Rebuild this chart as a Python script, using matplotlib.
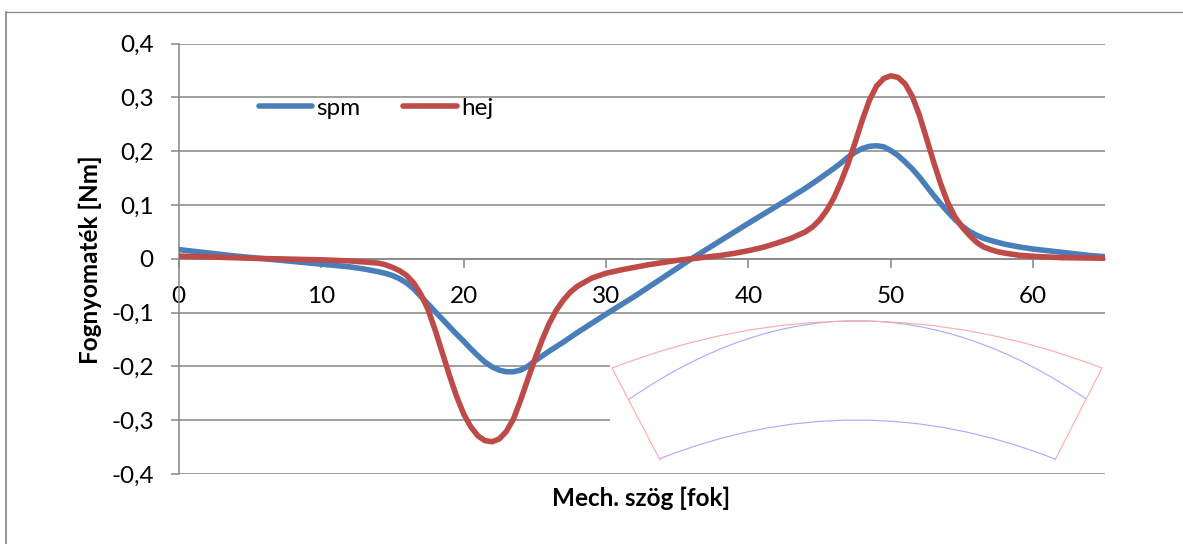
import matplotlib
matplotlib.use("Agg")
import matplotlib.pyplot as plt
from matplotlib.lines import Line2D
from matplotlib.path import Path
from matplotlib.patches import PathPatch

plt.rcParams['font.family'] = ['Lato', 'DejaVu Sans']

W, H = 1183, 544
GRAY = '#8a8a8a'

x_ticks = [0, 10, 20, 30, 40, 50, 60]
y_ticks = [-0.4, -0.3, -0.2, -0.1, 0, 0.1, 0.2, 0.3, 0.4]
y_labels = ['-0,4', '-0,3', '-0,2', '-0,1', '0', '0,1', '0,2', '0,3', '0,4']

spm_x = [0, 2, 4, 6, 8, 10, 12, 13, 14, 14.5, 15, 15.5, 16, 16.5, 17, 17.5, 18, 18.5, 19, 19.5, 20, 20.5, 21, 21.5,
         22, 22.5, 23, 23.5, 24, 24.5, 25, 25.5, 26, 27, 28, 29, 30, 32, 34, 36, 38, 40, 42, 44, 45, 46, 46.5, 47,
         47.5, 48, 48.5, 49, 49.5, 50, 50.5, 51, 51.5, 52, 52.5, 53, 53.5, 54, 54.5, 55, 55.5, 56, 56.5, 57, 58, 59,
         60, 61, 62, 63, 64, 65]
spm_y = [0.017, 0.011, 0.005, 0.0, -0.005, -0.010, -0.015, -0.019, -0.024, -0.027, -0.031, -0.037, -0.045, -0.056,
         -0.070, -0.084, -0.098, -0.112, -0.126, -0.140, -0.153, -0.167, -0.180, -0.192, -0.201, -0.207, -0.210,
         -0.210, -0.207, -0.200, -0.190, -0.181, -0.172, -0.155, -0.137, -0.120, -0.103, -0.070, -0.035, 0.0, 0.033,
         0.066, 0.098, 0.131, 0.149, 0.168, 0.178, 0.189, 0.198, 0.205, 0.209, 0.210, 0.208, 0.201, 0.192, 0.180,
         0.167, 0.152, 0.135, 0.118, 0.102, 0.087, 0.073, 0.061, 0.051, 0.044, 0.038, 0.034, 0.027, 0.022, 0.018,
         0.015, 0.012, 0.009, 0.006, 0.004]

hej_x = [0, 5, 10, 12, 13, 14, 14.5, 15, 15.5, 16, 16.5, 17, 17.5, 18, 18.5, 19, 19.5, 20, 20.5, 21, 21.5, 22, 22.5,
         23, 23.5, 24, 24.5, 25, 25.5, 26, 26.5, 27, 27.5, 28, 29, 30, 31, 32, 33, 34, 35, 36, 38, 39, 40, 41, 42, 43,
         44, 44.5, 45, 45.5, 46, 46.5, 47, 47.5, 48, 48.5, 49, 49.5, 50, 50.5, 51, 51.5, 52, 52.5, 53, 53.5, 54, 54.5,
         55, 55.5, 56, 56.5, 57, 57.5, 58, 59, 60, 62, 65]
hej_y = [0.005, 0.001, -0.002, -0.004, -0.006, -0.008, -0.011, -0.016, -0.022, -0.031, -0.045, -0.066, -0.094,
         -0.132, -0.174, -0.216, -0.255, -0.288, -0.312, -0.329, -0.338, -0.340, -0.335, -0.321, -0.298, -0.263,
         -0.225, -0.187, -0.152, -0.121, -0.096, -0.077, -0.062, -0.051, -0.036, -0.027, -0.021, -0.016, -0.011,
         -0.007, -0.003, 0.0, 0.006, 0.010, 0.015, 0.021, 0.029, 0.038, 0.050, 0.059, 0.072, 0.090, 0.113, 0.143,
         0.177, 0.217, 0.258, 0.295, 0.321, 0.335, 0.340, 0.337, 0.325, 0.302, 0.267, 0.224, 0.180, 0.139, 0.104,
         0.078, 0.059, 0.044, 0.031, 0.022, 0.017, 0.013, 0.0105, 0.0065, 0.0045, 0.002, 0.001]

# inset drawing: quadratic arcs (start, control, end) read in picture pixels
outer_arc = [(612, 368), (856, 274), (1102, 368)]
rotor_arc = [(628, 400), (856, 242), (1086, 399)]
lower_arc = [(659, 459), (856, 381), (1055, 459)]
side_left = [(612, 368), (660, 460)]
side_right = [(1102, 368), (1055, 460)]

fig = plt.figure(figsize=(W / 100, H / 100), dpi=100, facecolor='white')
ax = fig.add_axes([178.7 / W, 1 - 474 / H, (1104.5 - 178.7) / W, (474 - 43.5) / H])
ax.set_xlim(0, 65)
ax.set_ylim(-0.4, 0.4)

for s in ('top', 'right'):
    ax.spines[s].set_visible(False)
ax.spines['bottom'].set_position(('data', 0))
for s in ('left', 'bottom'):
    ax.spines[s].set_color(GRAY)
    ax.spines[s].set_linewidth(1.15)

ax.set_yticks(y_ticks, y_labels)
ax.set_xticks(x_ticks, [str(v) for v in x_ticks])
ax.tick_params(axis='y', length=6, width=1.15, color=GRAY, labelsize=17.5, pad=12)
ax.tick_params(axis='x', length=6.5, width=1.15, color=GRAY, labelsize=17.5, pad=13)
ax.grid(axis='y', color=GRAY, lw=1.15)
ax.set_axisbelow(True)

ax.plot(spm_x, spm_y, color='#4a7ebb', lw=4, solid_capstyle='round', solid_joinstyle='round', label='spm', zorder=3)
ax.plot(hej_x, hej_y, color='#be4b48', lw=4, solid_capstyle='round', solid_joinstyle='round', label='hej', zorder=4)

ax.legend(loc='center left', bbox_to_anchor=((259 - 178.7) / (1104.5 - 178.7), (474 - 108) / (474 - 43.5)),
          ncol=2, frameon=False, fontsize=17.5, borderaxespad=0, borderpad=0,
          handlelength=2.2, handletextpad=0.17, columnspacing=1.75)

# inset
ins = fig.add_axes([610 / W, 1 - 472 / H, (1108 - 610) / W, (472 - 318) / H], facecolor='white', zorder=5)
ins.set_xlim(610, 1108)
ins.set_ylim(472, 318)
ins.set_xticks([])
ins.set_yticks([])
for s in ins.spines.values():
    s.set_visible(False)

RED = '#ffa8a8'
BLUE = '#a8a8ff'
codes = [Path.MOVETO, Path.CURVE3, Path.CURVE3]
ins.add_patch(PathPatch(Path(rotor_arc, codes), fc='none', ec=BLUE, lw=0.8))
ins.add_patch(PathPatch(Path(lower_arc, codes), fc='none', ec=BLUE, lw=0.8))
ins.add_patch(PathPatch(Path(outer_arc, codes), fc='none', ec=RED, lw=0.8))
for seg in (side_left, side_right):
    ins.plot(*zip(*seg), color=RED, lw=0.8)

# labels
fig.text(641 / W, 1 - 498 / H, 'Mech. szög [fok]', ha='center', va='center', fontsize=17.5, fontweight='bold')
fig.text(90 / W, 1 - 260 / H, 'Fognyomaték [Nm]', ha='center', va='center', rotation=90, fontsize=17.5, fontweight='bold')

# outer chart border
fig.add_artist(Line2D([5.5 / W, 5.5 / W], [0, 1 - 11.5 / H], color=GRAY, lw=1.3))
fig.add_artist(Line2D([5.5 / W, 1], [1 - 11.5 / H, 1 - 11.5 / H], color=GRAY, lw=0.9))

fig.savefig('out.png', dpi=100, facecolor='white')
